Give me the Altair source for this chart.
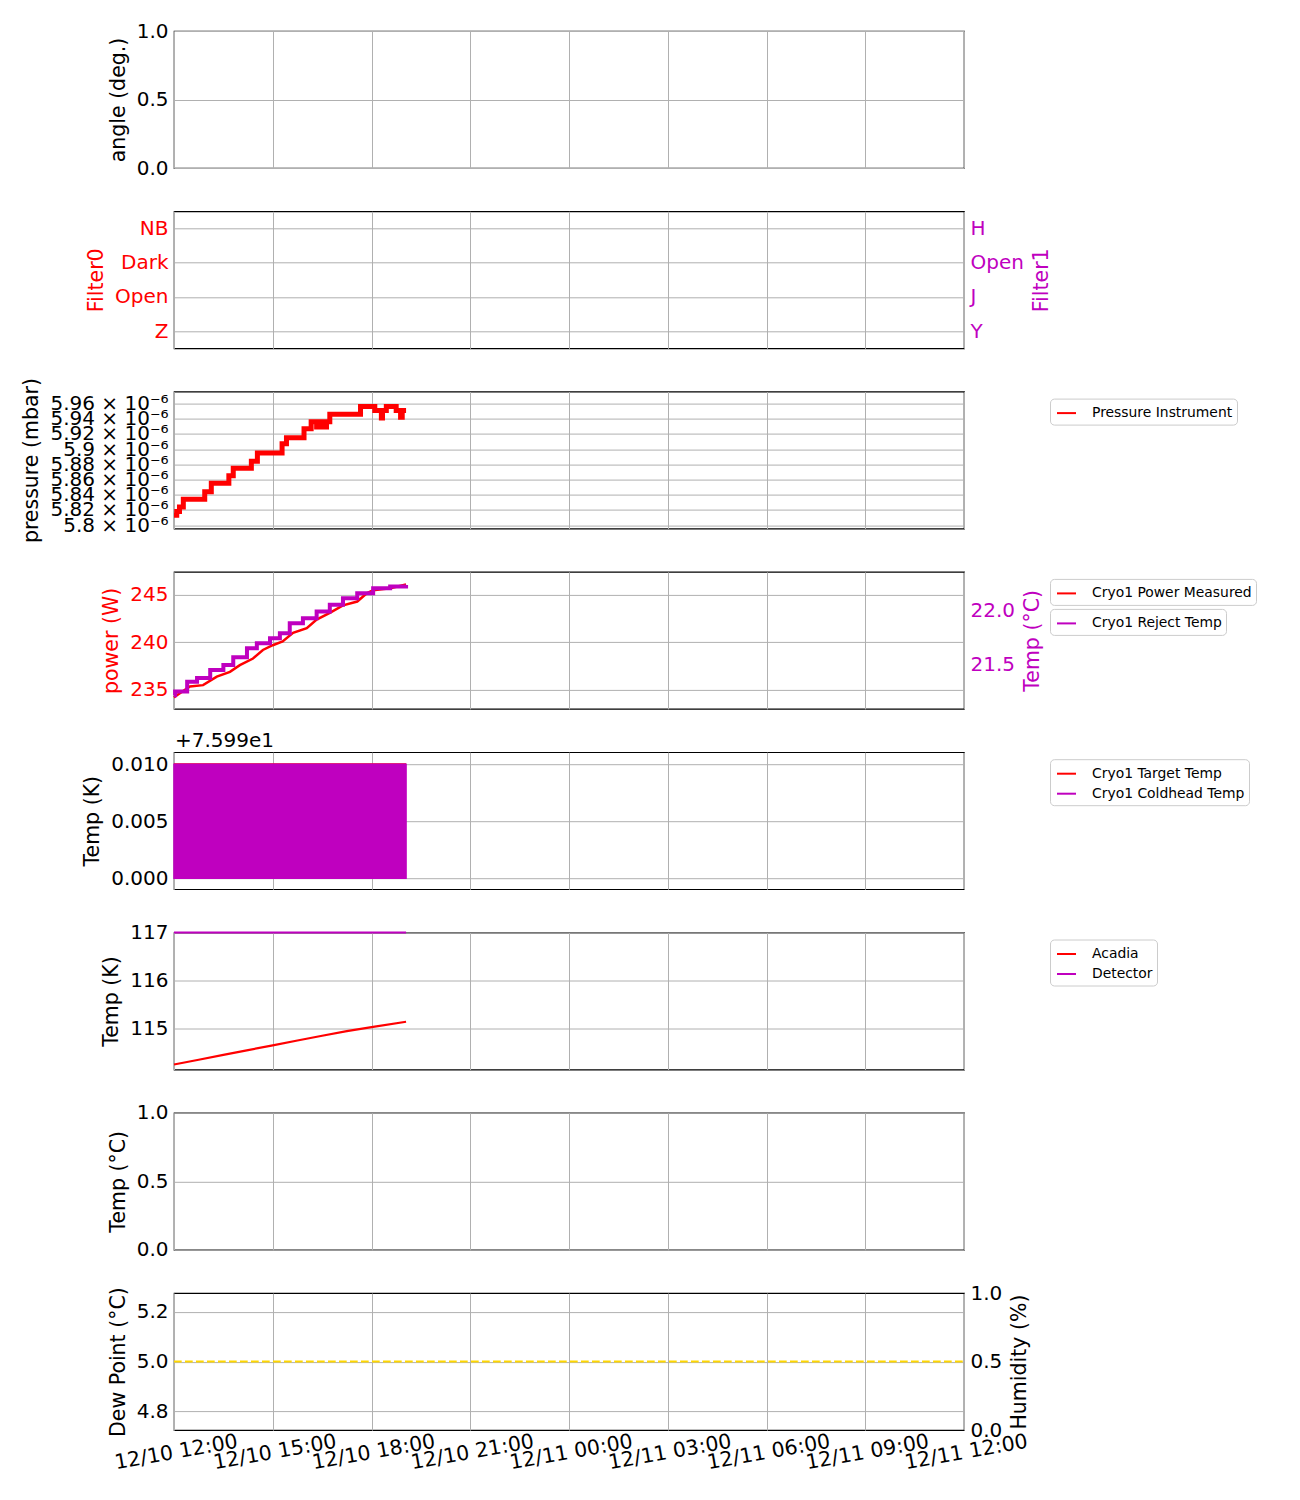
import json
import altair as alt
import pandas as pd

# ---------------- constants ----------------
BASE = pd.Timestamp("2023-12-10 12:00:00")
FONT = "DejaVu Sans"
RED, MAG, GOLD, GRID = "#ff0000", "#bf00bf", "#ffd700", "#b0b0b0"
W, H = 790, 137
FS = 20

# ---------------- data (times in minutes after 12/10 12:00) ----------------
x_tick_hours = [0, 3, 6, 9, 12, 15, 18, 21, 24]

filter0_labels = ["Z", "Open", "Dark", "NB"]
filter1_labels = ["Y", "J", "Open", "H"]

pressure_t = [0, 5, 10, 17, 56, 68, 100, 108, 141, 152, 197, 205, 237, 250, 260, 262,
              268, 270, 276, 278, 284, 340, 366, 378, 380, 387, 405, 413, 416, 423]
pressure_v = [5.813, 5.818, 5.824, 5.834, 5.844, 5.855, 5.865, 5.875, 5.884, 5.895,
              5.907, 5.915, 5.927, 5.936, 5.929, 5.936, 5.929, 5.936, 5.929, 5.936,
              5.946, 5.956, 5.951, 5.941, 5.951, 5.956, 5.951, 5.942, 5.951, 5.951]  # x 1e-6 mbar
pressure_ticks = [5.80, 5.82, 5.84, 5.86, 5.88, 5.90, 5.92, 5.94, 5.96]

power_t = [0, 2, 29, 53, 78, 102, 120, 144, 162, 180, 198, 217, 242, 260, 284, 308,
           334, 352, 363, 394, 423]
power_v = [234.2, 234.3, 235.35, 235.5, 236.4, 236.9, 237.6, 238.3, 239.2, 239.7, 240.1,
           241.0, 241.5, 242.4, 243.1, 243.9, 244.3, 245.2, 245.5, 245.7, 246.1]

reject_t = [0, 2, 24, 42, 66, 90, 108, 133, 151, 175, 193, 211, 235, 260, 284, 308,
            334, 363, 394, 423]
reject_v = [21.22, 21.253, 21.345, 21.38, 21.454, 21.5, 21.571, 21.655, 21.70, 21.747,
            21.794, 21.886, 21.932, 21.994, 22.056, 22.118, 22.164, 22.21, 22.225, 22.24]

coldhead_offset = 75.99
coldhead_offset_label = "+7.599e1"
target_t = [0, 423]
target_v = [76.00, 76.00]
coldhead_t = [0, 423]
coldhead_low = [75.99, 75.99]
coldhead_high = [76.00, 76.00]

acadia_t = [0, 45, 90, 135, 180, 225, 270, 315, 363, 423]
acadia_v = [114.25, 114.35, 114.45, 114.55, 114.65, 114.75, 114.85, 114.945, 115.035, 115.14]
detector_t = [0, 423]
detector_v = [117.0, 117.0]

dew_t = [0, 1440]
dew_v = [5.0, 5.0]


# ---------------- helpers ----------------
def stamp(mins):
    return [(BASE + pd.Timedelta(minutes=float(m))).strftime("%Y-%m-%dT%H:%M:%S") for m in mins]


def dt(h):
    d = BASE + pd.Timedelta(hours=h)
    return alt.DateTime(year=int(d.year), month=int(d.month), date=int(d.day), hours=int(d.hour))


def x_enc(show=False):
    return alt.X(
        "t:T", title=None,
        scale=alt.Scale(domain=[dt(x_tick_hours[0]), dt(x_tick_hours[-1])]),
        axis=alt.Axis(values=[dt(h) for h in x_tick_hours], labels=show, format="%m/%d %H:%M",
                      grid=True, gridColor=GRID, gridWidth=1, ticks=False, domain=False,
                      labelAngle=350, labelAlign="center", labelBaseline="top", labelPadding=12,
                      labelFont=FONT, labelFontSize=FS + 0.5, labelColor="black",
                      labelOverlap=False, labelFlush=False))


def y_axis(title, values, fmt=None, color="black", orient="left", grid=True, label_expr=None):
    kw = dict(title=title, values=values, orient=orient, grid=grid, gridColor=GRID, gridWidth=1,
              ticks=False, domain=False, labelFontSize=FS, labelFont=FONT, labelColor=color,
              titleColor=color, titleFontSize=FS + 0.5, titleFont=FONT, titleFontWeight="normal",
              labelPadding=6, titlePadding=8, labelOverlap=False, labelFlush=False)
    if fmt:
        kw["format"] = fmt
    if label_expr:
        kw["labelExpr"] = label_expr
    if orient == "right":
        kw["titleAngle"] = 270
        kw["titleBaseline"] = "top"
    return alt.Axis(**kw)


def yscale(domain):
    return alt.Scale(domain=domain, nice=False, zero=False)


def leg(y):
    return alt.Legend(title=None, orient="none", legendX=876, legendY=y, direction="vertical",
                      fillColor="white", strokeColor="#cccccc", cornerRadius=4, padding=4,
                      labelFont=FONT, labelFontSize=13.9, labelColor="black", labelLimit=400,
                      symbolType="stroke", symbolStrokeWidth=2, symbolSize=361, symbolOffset=2,
                      labelOffset=15, rowPadding=2)


empty_df = pd.DataFrame({"t": stamp([0, 1440]), "v": [None, None]})


def empty_layer(axis, domain, show_x=False):
    return alt.Chart(empty_df).mark_line(opacity=0).encode(
        x=x_enc(show_x), y=alt.Y("v:Q", scale=yscale(domain), axis=axis))


# ---------------- panels ----------------
p1 = empty_layer(y_axis("angle (deg.)", [0, 0.5, 1], ".1f"), [0, 1]).properties(width=W, height=H)

p2 = alt.layer(
    empty_layer(y_axis("Filter0", [0, 1, 2, 3], color=RED,
                       label_expr=json.dumps(filter0_labels) + "[datum.value]"), [-0.5, 3.5]),
    empty_layer(y_axis("Filter1", [0, 1, 2, 3], color=MAG, orient="right", grid=False,
                       label_expr=json.dumps(filter1_labels) + "[datum.value]"), [-0.5, 3.5]),
).resolve_scale(y="independent").properties(width=W, height=H)

pdf = pd.DataFrame({"t": stamp(pressure_t), "v": [v * 1e-6 for v in pressure_v],
                    "s": "Pressure Instrument"})
p3 = alt.Chart(pdf).mark_line(interpolate="step-after", strokeWidth=5).encode(
    x=x_enc(),
    y=alt.Y("v:Q", scale=yscale([5.7955e-6, 5.9757e-6]),
            axis=y_axis("pressure (mbar)", [v * 1e-6 for v in pressure_ticks],
                        label_expr="format(datum.value*1e6, '.2~f') + ' × 10⁻⁶'")),
    color=alt.Color("s:N", scale=alt.Scale(domain=["Pressure Instrument"], range=[RED]), legend=leg(7)),
).properties(width=W, height=H)

powdf = pd.DataFrame({"t": stamp(power_t), "v": power_v, "s": "Cryo1 Power Measured"})
rejdf = pd.DataFrame({"t": stamp(reject_t), "v": reject_v, "s": "Cryo1 Reject Temp"})
p4 = alt.layer(
    alt.Chart(powdf).mark_line(strokeWidth=2.5).encode(
        x=x_enc(),
        y=alt.Y("v:Q", scale=yscale([233.0, 247.42]),
                axis=y_axis("power (W)", [235, 240, 245], "d", color=RED)),
        color=alt.Color("s:N", scale=alt.Scale(domain=["Cryo1 Power Measured"], range=[RED]), legend=leg(7))),
    alt.Chart(rejdf).mark_line(strokeWidth=4, interpolate="step-after").encode(
        x=x_enc(),
        y=alt.Y("v:Q", scale=yscale([21.093, 22.361]),
                axis=y_axis("Temp (°C)", [21.5, 22.0], ".1f", color=MAG, orient="right", grid=False)),
        color=alt.Color("s:N", scale=alt.Scale(domain=["Cryo1 Reject Temp"], range=[MAG]), legend=leg(37))),
).resolve_scale(y="independent", color="independent").properties(width=W, height=H)

tgt = pd.DataFrame({"t": stamp(target_t), "v": [v - coldhead_offset for v in target_v],
                    "s": "Cryo1 Target Temp"})
cold = pd.DataFrame({"t": stamp(coldhead_t), "lo": [v - coldhead_offset for v in coldhead_low],
                     "hi": [v - coldhead_offset for v in coldhead_high], "s": "Cryo1 Coldhead Temp"})
cryo_dom = ["Cryo1 Target Temp", "Cryo1 Coldhead Temp"]
p5 = alt.layer(
    alt.Chart(tgt).mark_line(strokeWidth=2).encode(
        x=x_enc(),
        y=alt.Y("v:Q", scale=yscale([-0.000965, 0.01105]),
                axis=y_axis("Temp (K)", [0.0, 0.005, 0.010], ".3f")),
        stroke=alt.Stroke("s:N", scale=alt.Scale(domain=cryo_dom, range=[RED, MAG]), legend=leg(7))),
    alt.Chart(cold).mark_area(fill=MAG, strokeWidth=1.5, opacity=1).encode(
        x=x_enc(), y=alt.Y("lo:Q"), y2="hi:Q",
        stroke=alt.Stroke("s:N", scale=alt.Scale(domain=cryo_dom, range=[RED, MAG]), legend=leg(7))),
    alt.Chart(pd.DataFrame({"label": [coldhead_offset_label]})).mark_text(
        align="left", baseline="middle", fontSize=FS, font=FONT, color="black").encode(
        text="label:N", x=alt.value(1), y=alt.value(-11)),
).properties(width=W, height=H)

acdf = pd.DataFrame({"t": stamp(acadia_t), "v": acadia_v, "s": "Acadia"})
dedf = pd.DataFrame({"t": stamp(detector_t), "v": detector_v, "s": "Detector"})
det_dom = ["Acadia", "Detector"]
p6 = alt.layer(
    alt.Chart(acdf).mark_line(strokeWidth=2.2).encode(
        x=x_enc(),
        y=alt.Y("v:Q", scale=yscale([114.146, 117.0]),
                axis=y_axis("Temp (K)", [115, 116, 117], "d")),
        color=alt.Color("s:N", scale=alt.Scale(domain=det_dom, range=[RED, MAG]), legend=leg(7))),
    alt.Chart(dedf).mark_line(strokeWidth=2).encode(
        x=x_enc(), y=alt.Y("v:Q"),
        color=alt.Color("s:N", scale=alt.Scale(domain=det_dom, range=[RED, MAG]), legend=leg(7))),
).properties(width=W, height=H)

p7 = empty_layer(y_axis("Temp (°C)", [0, 0.5, 1], ".1f"), [0, 1]).properties(width=W, height=H)

dewdf = pd.DataFrame({"t": stamp(dew_t), "v": dew_v})
p8 = alt.layer(
    alt.Chart(dewdf).mark_line(color=GOLD, strokeWidth=2, strokeDash=[7.7, 3.3]).encode(
        x=x_enc(True),
        y=alt.Y("v:Q", scale=yscale([4.725, 5.275]),
                axis=y_axis("Dew Point (°C)", [4.8, 5.0, 5.2], ".1f"))),
    empty_layer(y_axis("Humidity (%)", [0, 0.5, 1], ".1f", orient="right", grid=False), [0, 1], True),
).resolve_scale(y="independent").properties(width=W, height=H)

chart = alt.vconcat(p1, p2, p3, p4, p5, p6, p7, p8, spacing=43.3, bounds="flush").resolve_scale(
    x="independent", y="independent", color="independent", stroke="independent"
).properties(
    padding={"left": 13, "top": 12, "right": 5, "bottom": 5}, background="white"
).configure_view(stroke="black", strokeWidth=1.2)

chart.save("out.html", embed_options={"renderer": "svg", "actions": False})
